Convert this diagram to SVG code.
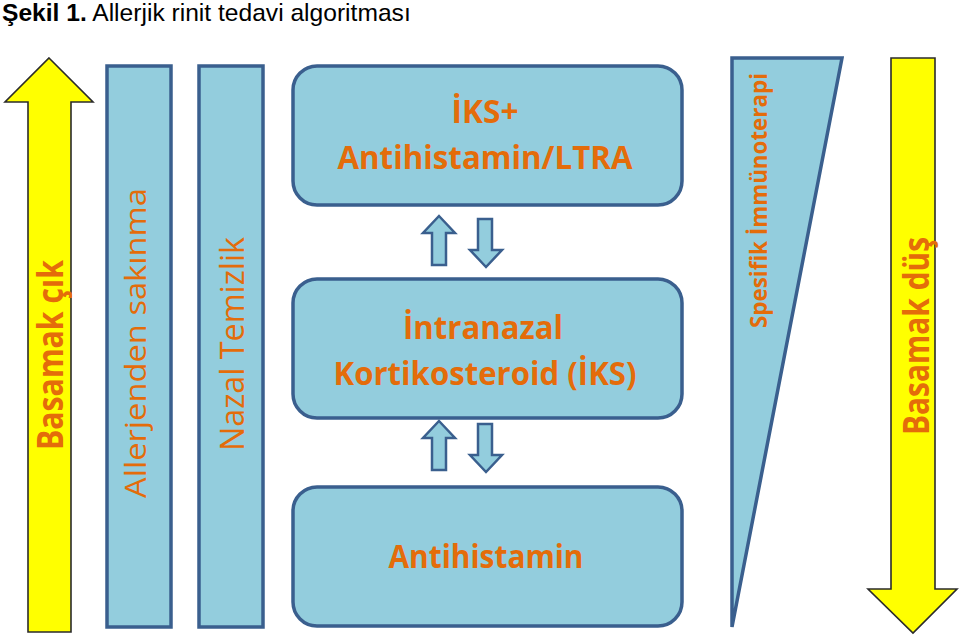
<svg xmlns="http://www.w3.org/2000/svg" width="960" height="640" viewBox="0 0 960 640">
<style>
.yel{fill:#FFFF00;stroke:#2b2b2b;stroke-width:1.6}
.blu{fill:#93CDDD;stroke:#3A5F8E;stroke-width:3.5}
.sarr{fill:#93CDDD;stroke:#3A5F8E;stroke-width:2.5;stroke-linejoin:miter}
.lbl{font-family:"Open Sans","Noto Sans","Liberation Sans",sans-serif;fill:#E46C0A}
.b{font-weight:bold}
.title{font-family:"Liberation Sans",Arial,sans-serif;font-size:24.6px;fill:#000}
</style>
<rect width="960" height="640" fill="#fff"/>
<text class="title" x="2" y="21"><tspan font-weight="bold">Şekil 1.</tspan> Allerjik rinit tedavi algoritması</text>

<g id="basamak-cik">
<polygon class="yel" points="49,58 93,102 71,102 71,632 28,632 28,102 5,102"/>
<text class="lbl b" transform="translate(63,450) rotate(-90)" font-size="35" textLength="190" lengthAdjust="spacingAndGlyphs">Basamak çık</text>
</g>

<g id="allerjenden-sakinma">
<rect class="blu" x="107" y="66" width="64" height="561"/>
<text class="lbl" transform="translate(146,498) rotate(-90)" font-size="30" textLength="310" lengthAdjust="spacingAndGlyphs">Allerjenden sakınma</text>
</g>

<g id="nazal-temizlik">
<rect class="blu" x="199" y="66" width="64" height="561"/>
<text class="lbl" transform="translate(244,451) rotate(-90)" font-size="32" textLength="214" lengthAdjust="spacingAndGlyphs">Nazal Temizlik</text>
</g>

<g id="iks-antihistamin-ltra">
<rect class="blu" x="293" y="66" width="389" height="139" rx="24"/>
<text class="lbl b" x="485" y="123" font-size="32" text-anchor="middle" textLength="67" lengthAdjust="spacingAndGlyphs">İKS+</text>
<text class="lbl b" x="485" y="169" font-size="32" text-anchor="middle" textLength="295" lengthAdjust="spacingAndGlyphs">Antihistamin/LTRA</text>
</g>

<g id="intranazal-kortikosteroid">
<rect class="blu" x="293" y="279" width="389" height="139" rx="24"/>
<text class="lbl b" x="483" y="339" font-size="32" text-anchor="middle" textLength="160" lengthAdjust="spacingAndGlyphs">İntranazal</text>
<text class="lbl b" x="485" y="385" font-size="32" text-anchor="middle" textLength="303" lengthAdjust="spacingAndGlyphs">Kortikosteroid (İKS)</text>
</g>

<g id="antihistamin">
<rect class="blu" x="293" y="487" width="389" height="139" rx="24"/>
<text class="lbl b" x="486" y="568" font-size="32" text-anchor="middle" textLength="195" lengthAdjust="spacingAndGlyphs">Antihistamin</text>
</g>

<g id="spesifik-immunoterapi">
<polygon class="blu" points="732,58 842,58 732,627"/>
<text class="lbl b" transform="translate(767,328) rotate(-90)" font-size="24" textLength="255" lengthAdjust="spacingAndGlyphs">Spesifik İmmünoterapi</text>
</g>

<g id="basamak-dus">
<polygon class="yel" points="891,58 935,58 935,589 957,589 913,633 868,589 891,589"/>
<text class="lbl b" transform="translate(929,435) rotate(-90)" font-size="35" textLength="198" lengthAdjust="spacingAndGlyphs">Basamak düş</text>
</g>

<g id="connectors">
<g id="arrows-top">
<polygon class="sarr" points="439,216 455,233 446,233 446,265 432,265 432,233 423,233"/>
<polygon class="sarr" points="478,219 492,219 492,250 502,250 486,267 470,250 478,250"/>
</g>
<g id="arrows-bottom" transform="translate(0,205)">
<polygon class="sarr" points="439,216 455,233 446,233 446,265 432,265 432,233 423,233"/>
<polygon class="sarr" points="478,219 492,219 492,250 502,250 486,267 470,250 478,250"/>
</g>
</g>
</svg>
